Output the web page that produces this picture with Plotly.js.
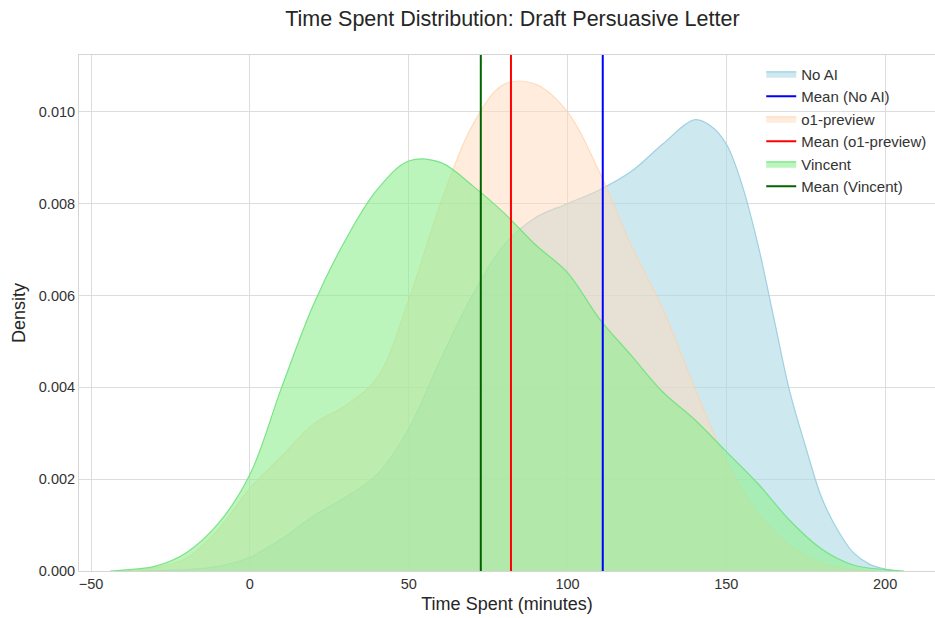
<!DOCTYPE html>
<html>
<head>
<meta charset="utf-8">
<script src="https://cdn.plot.ly/plotly-3.0.1.min.js"></script>
<style>html,body{margin:0;padding:0;background:#fff;}#chart{width:935px;height:618px;}</style>
</head>
<body>
<div id="chart"></div>
<script>
// ---- Data (KDE curves, density vs minutes) ----
const noAiX = [-35, -30, -20, -10, 0, 10, 20, 30, 40, 50, 60, 70, 80, 90, 100, 110, 120, 130, 140, 145, 150, 155, 160, 165, 170, 175, 180, 185, 190, 195, 200, 204];
const noAiY = [0, 0.00001, 0.00003, 0.0001, 0.0003, 0.0007, 0.0012, 0.0016, 0.0021, 0.0031, 0.0046, 0.0060, 0.0071, 0.0077, 0.0080, 0.0083, 0.0087, 0.0093, 0.00983, 0.0097, 0.0093, 0.0084, 0.0071, 0.0055, 0.0039, 0.0027, 0.0016, 0.0009, 0.0004, 0.00015, 0.00004, 0];

const o1X = [-42, -30, -20, -10, 0, 10, 20, 30, 40, 50, 60, 70, 80, 90, 100, 110, 120, 130, 140, 150, 160, 170, 180, 190, 197];
const o1Y = [0, 0.00007, 0.00028, 0.0009, 0.0018, 0.0025, 0.0032, 0.0036, 0.0042, 0.0059, 0.0080, 0.0097, 0.0106, 0.01060, 0.0100, 0.0087, 0.0071, 0.0057, 0.0040, 0.0024, 0.00125, 0.00055, 0.00016, 0.00003, 0];

const vinX = [-44, -40, -30, -20, -10, 0, 10, 20, 30, 40, 50, 60, 70, 80, 90, 100, 110, 120, 130, 140, 150, 160, 170, 180, 190, 200, 206];
const vinY = [0, 0.00002, 0.0001, 0.0004, 0.00103, 0.0021, 0.0040, 0.0058, 0.0072, 0.0083, 0.00893, 0.0089, 0.0084, 0.0078, 0.0071, 0.0065, 0.0055, 0.0047, 0.0039, 0.0033, 0.0026, 0.0019, 0.0011, 0.00048, 0.00013, 0.00003, 0];

const meanNoAi = 111.1;
const meanO1 = 82.2;
const meanVincent = 72.7;

const seriesNames = ["No AI", "o1-preview", "Vincent"];
const meanNames = ["Mean (No AI)", "Mean (o1-preview)", "Mean (Vincent)"];
const yTop = 0.01124;

const font = "Arial, 'Liberation Sans', sans-serif";

function kde(x, y, name, fill, line, rank) {
  return {x: x, y: y, name: name, type: 'scatter', mode: 'lines', fill: 'tozeroy',
    fillcolor: fill, line: {color: line, width: 1.2, shape: 'spline', smoothing: 1},
    legendrank: rank, hoverinfo: 'skip'};
}
function meanLine(m, name, color, rank) {
  return {x: [m, m], y: [0, yTop], name: name, type: 'scatter', mode: 'lines',
    line: {color: color, width: 2}, legendrank: rank, hoverinfo: 'skip'};
}

const data = [
  kde(noAiX, noAiY, seriesNames[0], 'rgba(173,216,230,0.6)', 'rgba(150,205,222,0.9)', 1),
  kde(o1X, o1Y, seriesNames[1], 'rgba(255,218,185,0.5)', 'rgba(255,210,170,0.7)', 3),
  kde(vinX, vinY, seriesNames[2], 'rgba(144,238,144,0.6)', 'rgba(110,226,125,0.9)', 5),
  meanLine(meanNoAi, meanNames[0], 'blue', 2),
  meanLine(meanO1, meanNames[1], 'red', 4),
  meanLine(meanVincent, meanNames[2], 'darkgreen', 6)
];

const layout = {
  width: 935, height: 618,
  margin: {l: 79, r: 0, t: 55, b: 47},
  paper_bgcolor: '#fff', plot_bgcolor: '#fff',
  font: {family: font, size: 14.5, color: '#333'},
  title: {text: 'Time Spent Distribution: Draft Persuasive Letter', font: {size: 21.5, color: '#262626'},
    x: 0.548, xanchor: 'center', y: 0.97, yanchor: 'middle'},
  xaxis: {range: [-53.8, 215.7], tickmode: 'array', tickvals: [-50, 0, 50, 100, 150, 200],
    showgrid: true, gridcolor: '#dddddd', gridwidth: 1, zeroline: false,
    showline: true, linecolor: '#d5d5d5', linewidth: 1, mirror: true, ticks: '',
    tickfont: {size: 14.5, color: '#333'},
    title: {text: 'Time Spent (minutes)', font: {size: 18, color: '#262626'}, standoff: 5}},
  yaxis: {range: [0, yTop], tickmode: 'array', tickvals: [0, 0.002, 0.004, 0.006, 0.008, 0.010],
    tickformat: '.3f', showgrid: true, gridcolor: '#dddddd', gridwidth: 1, zeroline: false,
    showline: true, linecolor: '#d5d5d5', linewidth: 1, mirror: true, ticks: '',
    tickfont: {size: 14.5, color: '#333'},
    title: {text: 'Density', font: {size: 18, color: '#262626'}, standoff: 8}},
  legend: {x: 0.797, y: 0.995, xanchor: 'left', yanchor: 'top', bgcolor: 'rgba(0,0,0,0)',
    font: {size: 15, color: '#333'}, tracegroupgap: 0, itemwidth: 30},
  showlegend: true
};

Plotly.newPlot('chart', data, layout, {displayModeBar: false, staticPlot: true});
</script>
</body>
</html>
